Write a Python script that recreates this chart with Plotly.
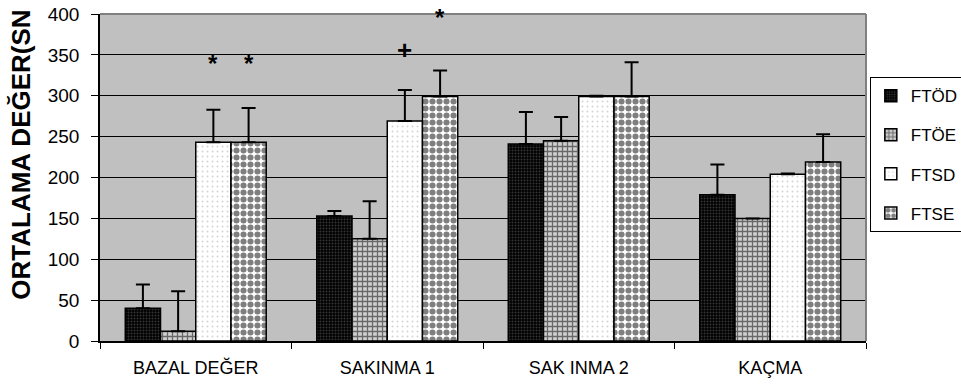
import plotly.graph_objects as go

# Categories on the x axis
categories = ["BAZAL DEĞER", "SAKINMA 1", "SAK INMA 2", "KAÇMA"]

# Group names
series_names = ["FTÖD", "FTÖE", "FTSD", "FTSE"]

# Mean values (seconds) per group
ftod = [40, 153, 241, 179]
ftoe = [12, 125, 245, 150]
ftsd = [243, 269, 299, 204]
ftse = [243, 299, 299, 219]

# Upper error bar lengths
ftod_err = [29, 6, 39, 37]
ftoe_err = [49, 46, 29, 0]
ftsd_err = [40, 38, 1, 1]
ftse_err = [42, 32, 42, 34]

# Significance marks: (category index, bar index, y value, symbol)
marks = [(0, 2, 340, "*"), (0, 3, 340, "*"), (1, 2, 356, "+"), (1, 3, 396, "*")]

y_ticks = [0, 50, 100, 150, 200, 250, 300, 350, 400]
y_title = "ORTALAMA DEĞER(SN"

patterns = [
    dict(shape=".", bgcolor="#000000", fgcolor="#6a6a6a", size=3, solidity=0.35),
    dict(shape="+", bgcolor="#d0d0d0", fgcolor="#000000", size=5, solidity=0.45),
    dict(shape=".", bgcolor="#ffffff", fgcolor="#a8a8a8", size=5, solidity=0.12),
    dict(shape=".", bgcolor="#ffffff", fgcolor="#000000", size=7, solidity=0.6),
]

values = [ftod, ftoe, ftsd, ftse]
errors = [ftod_err, ftoe_err, ftsd_err, ftse_err]

fig = go.Figure()
for name, vals, errs, pat in zip(series_names, values, errors, patterns):
    fig.add_trace(go.Bar(
        name=name,
        x=categories,
        y=vals,
        legendgroup=name,
        marker=dict(color=pat["bgcolor"], pattern=pat,
                    line=dict(color="#000000", width=1.5)),
        error_y=dict(type="data", symmetric=False, array=errs,
                     arrayminus=[0] * len(errs), color="#000000",
                     thickness=2, width=7),
    ))

bargap = 0.264
bar_w = (1 - bargap) / 4
for ci, bi, yv, sym in marks:
    xpos = ci - (1 - bargap) / 2 + bar_w * (bi + 0.5)
    fig.add_annotation(x=xpos, y=yv, xref="x", yref="y",
                       text="<b>" + sym + "</b>",
                       showarrow=False,
                       font=dict(size=26 if sym == "+" else 24, color="#000000",
                                 family="Arial, Liberation Sans"))

font_main = "Arial, Liberation Sans, sans-serif"

# Vertical y-axis title
fig.add_annotation(x=-0.103, y=0.57, xref="paper", yref="paper",
                   text="<b>" + y_title + "</b>", textangle=-90,
                   showarrow=False, xanchor="center", yanchor="middle",
                   font=dict(size=26, family=font_main, color="#000000"))

fig.update_layout(
    width=961, height=389,
    margin=dict(l=100, r=95, t=14, b=48, autoexpand=False),
    paper_bgcolor="#ffffff",
    plot_bgcolor="#c0c0c0",
    barmode="group",
    bargap=bargap,
    bargroupgap=0,
    showlegend=True,
    legend=dict(x=1.005, xanchor="left", y=0.807, yanchor="top",
                bgcolor="#ffffff", bordercolor="#000000", borderwidth=1,
                font=dict(family=font_main, size=17, color="#000000"),
                traceorder="grouped", tracegroupgap=14,
                itemwidth=30),
    font=dict(family=font_main, color="#000000"),
    xaxis=dict(
        showgrid=False, showline=True, linecolor="#000000", linewidth=1.5,
        ticks="outside", tickson="boundaries", ticklen=6, tickcolor="#000000",
        tickfont=dict(size=18, family=font_main), ticklabelstandoff=10,
    ),
    yaxis=dict(
        range=[0, 400], tickvals=y_ticks, showgrid=True, gridcolor="#000000",
        gridwidth=1, showline=True, linecolor="#000000", linewidth=1.5,
        ticks="outside", ticklen=7, tickcolor="#000000", zeroline=False,
        tickfont=dict(size=19, family=font_main), ticklabelstandoff=8,
    ),
)

# Gray frame along the top and right of the plot area
fig.add_shape(type="line", xref="paper", yref="paper", x0=0, x1=1, y0=1, y1=1,
              line=dict(color="#808080", width=2))
fig.add_shape(type="line", xref="paper", yref="paper", x0=1, x1=1, y0=0, y1=1,
              line=dict(color="#808080", width=2))

fig.write_html("out.html")
